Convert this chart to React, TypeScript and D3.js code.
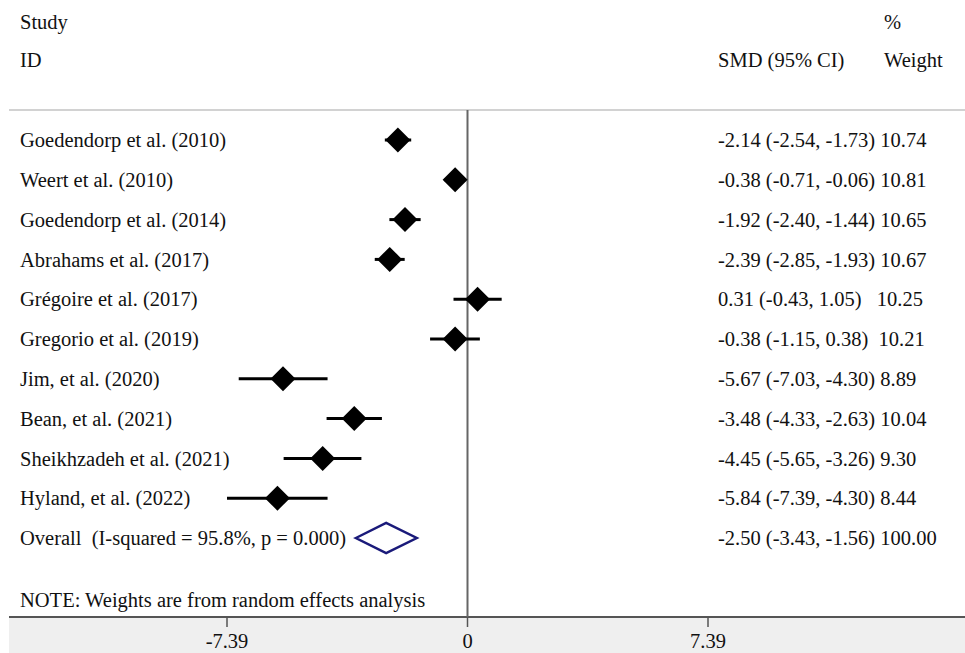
import React from "react";
import * as d3 from "d3";

const studies = [
  "Goedendorp et al. (2010)",
  "Weert et al. (2010)",
  "Goedendorp et al. (2014)",
  "Abrahams et al. (2017)",
  "Grégoire et al. (2017)",
  "Gregorio et al. (2019)",
  "Jim, et al. (2020)",
  "Bean, et al. (2021)",
  "Sheikhzadeh et al. (2021)",
  "Hyland, et al. (2022)",
];
const smd = [-2.14, -0.38, -1.92, -2.39, 0.31, -0.38, -5.67, -3.48, -4.45, -5.84];
const lower = [-2.54, -0.71, -2.40, -2.85, -0.43, -1.15, -7.03, -4.33, -5.65, -7.39];
const upper = [-1.73, -0.06, -1.44, -1.93, 1.05, 0.38, -4.30, -2.63, -3.26, -4.30];
const weights = [10.74, 10.81, 10.65, 10.67, 10.25, 10.21, 8.89, 10.04, 9.30, 8.44];

const overall = { label: "Overall  (I-squared = 95.8%, p = 0.000)", es: -2.5, lo: -3.43, hi: -1.56, w: 100.0 };
const xTicks = [-7.39, 0, 7.39];
const note = "NOTE: Weights are from random effects analysis";

const W = 965;
const H = 653;
const FONT = "'Liberation Serif', 'Times New Roman', serif";
const FS = 20.5;

function esText(es: number, lo: number, hi: number, w: number) {
  const s = `${es.toFixed(2)} (${lo.toFixed(2)}, ${hi.toFixed(2)})`;
  return s.padEnd(20, " ") + " " + w.toFixed(2);
}

export default function App() {
  const x = d3.scaleLinear().domain([-7.39, 7.39]).range([227, 708]);
  const y = d3.scaleLinear().domain([0, 1]).range([140, 179.8]);
  const lineTop = 110;
  const axisY = 617;
  const textProps = { fontFamily: FONT, fontSize: FS, fill: "#111" } as const;
  const m = 12.5;

  return (
    <svg
      width={W}
      height={H}
      style={{ position: "absolute", left: 0, top: 0, background: "#fff" }}
      xmlSpace="preserve"
    >
      {/* headers */}
      <text x={20} y={22} dy="0.35em" {...textProps}>Study</text>
      <text x={20} y={60} dy="0.35em" {...textProps}>ID</text>
      <text x={718} y={60} dy="0.35em" {...textProps}>SMD (95% CI)</text>
      <text x={884} y={22} dy="0.35em" {...textProps}>%</text>
      <text x={884} y={60} dy="0.35em" {...textProps}>Weight</text>

      {/* top rule */}
      <line x1={9} x2={W} y1={lineTop} y2={lineTop} stroke="#d2d2d2" strokeWidth={2} />

      {/* bottom axis band */}
      <rect x={9} y={axisY} width={W - 9} height={H - axisY} fill="#efefef" />
      <line x1={9} x2={W} y1={axisY} y2={axisY} stroke="#555" strokeWidth={2} />
      {xTicks.map((t) => (
        <g key={t}>
          <line x1={x(t)} x2={x(t)} y1={axisY} y2={axisY + 10} stroke="#555" strokeWidth={1.5} />
          <text x={x(t)} y={648} textAnchor="middle" {...textProps}>{t === 0 ? "0" : t.toFixed(2)}</text>
        </g>
      ))}

      {/* null line */}
      <line x1={x(0)} x2={x(0)} y1={lineTop} y2={axisY} stroke="#666" strokeWidth={2} />

      {/* studies */}
      {studies.map((s, i) => {
        const cy = y(i);
        const cx = x(smd[i]);
        return (
          <g key={s}>
            <text x={20} y={cy} dy="0.35em" {...textProps}>{s}</text>
            <line x1={x(lower[i])} x2={x(upper[i])} y1={cy} y2={cy} stroke="#000" strokeWidth={3} />
            <path d={`M${cx - m},${cy} L${cx},${cy - m} L${cx + m},${cy} L${cx},${cy + m} Z`} fill="#000" />
            <text x={718} y={cy} dy="0.35em" style={{ whiteSpace: "pre" }} {...textProps}>
              {esText(smd[i], lower[i], upper[i], weights[i])}
            </text>
          </g>
        );
      })}

      {/* overall */}
      {(() => {
        const cy = y(10);
        return (
          <g>
            <text x={20} y={cy} dy="0.35em" style={{ whiteSpace: "pre" }} {...textProps}>{overall.label}</text>
            <path
              d={`M${x(overall.lo)},${cy} L${x(overall.es)},${cy - 15} L${x(overall.hi)},${cy} L${x(overall.es)},${cy + 15} Z`}
              fill="#fff"
              stroke="#1a1a7a"
              strokeWidth={2.5}
            />
            <text x={718} y={cy} dy="0.35em" style={{ whiteSpace: "pre" }} {...textProps}>
              {`${overall.es.toFixed(2)} (${overall.lo.toFixed(2)}, ${overall.hi.toFixed(2)}) ${overall.w.toFixed(2)}`}
            </text>
          </g>
        );
      })()}

      <text x={20} y={600} dy="0.35em" {...textProps}>{note}</text>
    </svg>
  );
}
